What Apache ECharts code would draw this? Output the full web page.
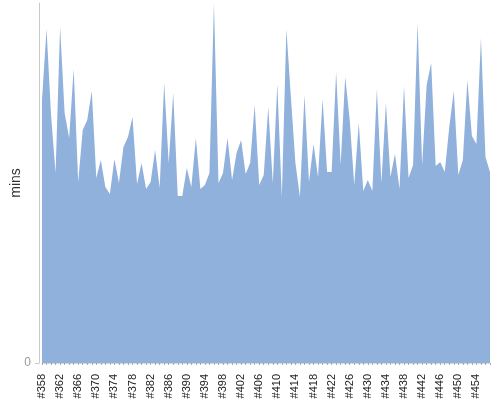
<!DOCTYPE html>
<html>
<head>
<meta charset="utf-8">
<script src="https://cdn.jsdelivr.net/npm/echarts@6/dist/echarts.min.js"></script>
<style>html,body{margin:0;padding:0;background:#fff}#c{width:500px;height:400px}</style>
</head>
<body>
<div id="c"></div>
<script>
var categories = ['#358','#359','#360','#361','#362','#363','#364','#365','#366','#367',
'#368','#369','#370','#371','#372','#373','#374','#375','#376','#377',
'#378','#379','#380','#381','#382','#383','#384','#385','#386','#387',
'#388','#389','#390','#391','#392','#393','#394','#395','#396','#397',
'#398','#399','#400','#401','#402','#403','#404','#405','#406','#407',
'#408','#409','#410','#411','#412','#413','#414','#415','#416','#417',
'#418','#419','#420','#421','#422','#423','#424','#425','#426','#427',
'#428','#429','#430','#431','#432','#433','#434','#435','#436','#437',
'#438','#439','#440','#441','#442','#443','#444','#445','#446','#447',
'#448','#449','#450','#451','#452','#453','#454','#455','#456','#457'];
var mins = [263,334,248,190,336,250,225,294,181,233,
243,272,185,203,176,169,204,180,216,226,
246,179,200,174,181,213,175,280,200,270,
167,167,195,176,225,174,178,190,360,180,
190,225,183,210,223,189,200,258,178,188,
256,180,279,166,334,266,200,166,268,181,
219,186,264,191,191,291,198,286,243,178,
240,172,183,172,274,180,260,186,209,174,
277,185,198,340,198,278,300,197,201,191,
236,272,188,203,283,227,219,325,206,191];
var yTicks = [0, 360];

var chart = echarts.init(document.getElementById('c'), null, {renderer:'canvas'});
chart.setOption({
  animation: false,
  grid: {left: 42, right: 10, top: 3, bottom: 37, containLabel: false, outerBoundsMode: 'none'},
  xAxis: {
    type: 'category',
    data: categories,
    boundaryGap: false,
    offset: 6,
    axisLine: {show: true, lineStyle: {color: '#d0d0d0', width: 1, type: 'dotted'}},
    axisTick: {show: true, interval: 0, length: 2, lineStyle: {color: '#aaa'}},
    axisLabel: {interval: 3, rotate: 90, fontSize: 11, color: '#222', margin: 5, fontFamily: 'Liberation Sans, Arial, sans-serif'},
    splitLine: {show: false}
  },
  yAxis: {
    type: 'value',
    min: yTicks[0],
    max: yTicks[1],
    interval: yTicks[1],
    offset: 3,
    name: 'mins',
    nameLocation: 'middle',
    nameRotate: 90,
    nameGap: 16,
    nameMoveOverlap: false,
    nameTextStyle: {fontSize: 14, color: '#333', fontFamily: 'Liberation Sans, Arial, sans-serif'},
    axisLine: {show: true, lineStyle: {color: '#c8c8c8'}},
    axisTick: {show: true, length: 4, lineStyle: {color: '#c8c8c8'}},
    axisLabel: {showMaxLabel: false, fontSize: 12, color: '#999', margin: 8, fontFamily: 'Liberation Sans, Arial, sans-serif'},
    splitLine: {show: false}
  },
  series: [{
    type: 'line',
    data: mins,
    symbol: 'none',
    lineStyle: {width: 0},
    areaStyle: {color: '#8fb1dc', opacity: 1}
  }]
});
</script>
</body>
</html>
